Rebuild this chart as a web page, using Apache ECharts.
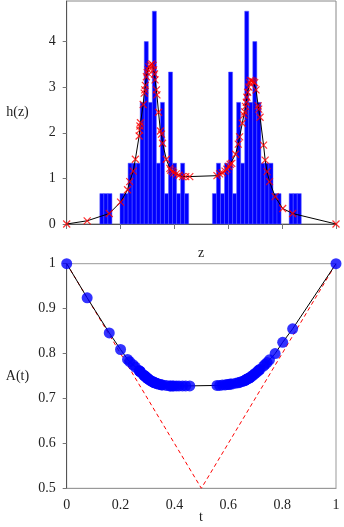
<!DOCTYPE html>
<html>
<head>
<meta charset="utf-8">
<script src="https://cdn.jsdelivr.net/npm/echarts@6/dist/echarts.min.js"></script>
<style>
  html, body { margin: 0; padding: 0; background: #fff; }
  #chart { width: 344px; height: 527px; }
</style>
</head>
<body>
<div id="chart"></div>
<script>
// sample points: z (also t on the lower panel), density h(z), Pickands A(t)
const zPts = [0, 0.076, 0.158, 0.2, 0.226, 0.234, 0.247, 0.255, 0.269, 0.271, 0.272, 0.274,
  0.284, 0.288, 0.29, 0.292, 0.296, 0.299, 0.302, 0.306, 0.311, 0.316, 0.321, 0.323, 0.326,
  0.328, 0.333, 0.335, 0.341, 0.348, 0.352, 0.356, 0.37, 0.383, 0.386, 0.393, 0.397, 0.407,
  0.417, 0.43, 0.442, 0.457, 0.558, 0.568, 0.578, 0.588, 0.595, 0.602, 0.607, 0.613, 0.627,
  0.637, 0.642, 0.652, 0.658, 0.661, 0.664, 0.667, 0.669, 0.672, 0.676, 0.679, 0.682, 0.688,
  0.693, 0.698, 0.703, 0.711, 0.713, 0.718, 0.731, 0.737, 0.744, 0.753, 0.774, 0.802, 0.839, 1]
const hPts = [0, 0.07, 0.23, 0.48, 0.75, 0.93, 1.16, 1.42, 1.93, 2.06, 2.15, 2.22,
  2.62, 2.87, 2.94, 3.04, 3.23, 3.32, 3.38, 3.45, 3.49, 3.51, 3.48, 3.38, 3.29,
  3.16, 2.94, 2.83, 2.45, 2.04, 1.97, 1.77, 1.42, 1.22, 1.18, 1.16, 1.12, 1.10,
  1.07, 1.04, 1.04, 1.04, 1.06, 1.10, 1.12, 1.16, 1.20, 1.26, 1.31, 1.33, 1.53,
  1.75, 1.91, 2.21, 2.39, 2.46, 2.58, 2.67, 2.78, 2.89, 3.00, 3.10, 3.15, 3.14,
  3.12, 3.10, 2.94, 2.59, 2.52, 2.34, 1.73, 1.40, 1.15, 0.93, 0.60, 0.34, 0.23, 0]
const aPts = [1, 0.924, 0.846, 0.809, 0.787, 0.782, 0.775, 0.770, 0.762, 0.761, 0.760, 0.759,
  0.753, 0.751, 0.750, 0.749, 0.747, 0.745, 0.744, 0.742, 0.740, 0.738, 0.737, 0.736, 0.735,
  0.735, 0.734, 0.733, 0.732, 0.731, 0.730, 0.730, 0.729, 0.728, 0.728, 0.728, 0.728, 0.728,
  0.728, 0.728, 0.728, 0.728, 0.729, 0.729, 0.730, 0.730, 0.731, 0.731, 0.732, 0.732, 0.734,
  0.735, 0.736, 0.738, 0.739, 0.740, 0.741, 0.742, 0.743, 0.744, 0.745, 0.746, 0.747, 0.750,
  0.752, 0.755, 0.757, 0.761, 0.763, 0.765, 0.772, 0.776, 0.780, 0.786, 0.800, 0.825, 0.855, 1]

// histogram (density), two runs of equal-width bins
const binWidth = 0.015
const leftBinStart = 0.123
const rightBinStart = 0.541
const leftHist = [0.667, 0.667, 0.667, 0, 0, 0.667, 0.667, 1.333, 1.333, 1.333, 2.667,
  4, 2.667, 4.667, 1.333, 2.667, 0.667, 3.333, 1.333, 0.667, 1.333, 0.667]
const rightHist = [0.667, 1.333, 0.667, 1.333, 3.333, 0.667, 2.667, 1.333, 4.667, 2.667,
  4, 2.667, 1.333, 1.333, 1.333, 0.667, 0.667, 0, 0, 0.667, 0.667, 0.667]

// lower bound max(t, 1-t)
const boundT = [0, 0.5, 1]
const boundA = [1, 0.5, 1]

const yTicksTop = [0, 1, 2, 3, 4]

const FONT = '"Liberation Serif", "DejaVu Serif", serif'
const TXT = '#222'

const bins = []
leftHist.forEach((h, i) => {
  const x0 = leftBinStart + i * binWidth
  if (h > 0) bins.push([x0, x0 + binWidth, h])
})
rightHist.forEach((h, i) => {
  const x0 = rightBinStart + i * binWidth
  if (h > 0) bins.push([x0, x0 + binWidth, h])
})

const hData = zPts.map((z, i) => [z, hPts[i]])
const aData = zPts.map((t, i) => [t, aPts[i]])
const boundData = boundT.map((t, i) => [t, boundA[i]])

const chart = echarts.init(document.getElementById('chart'))

const axisLine = { lineStyle: { color: '#555', width: 1 } }
const label = { color: TXT, fontFamily: FONT, fontSize: 14 }

chart.setOption({
  animation: false,
  grid: [
    { left: 66.7, right: 8, top: 1, height: 223, show: true, borderColor: '#888', borderWidth: 1 },
    { left: 66.7, right: 8, top: 263.7, height: 224.6, show: true, borderColor: '#999', borderWidth: 1 }
  ],
  xAxis: [
    {
      gridIndex: 0, type: 'value', min: 0, max: 1, interval: 0.2,
      axisLine: axisLine,
      axisTick: { show: true, inside: false, length: 5, lineStyle: { color: '#777' } },
      axisLabel: { show: false },
      splitLine: { show: false }
    },
    {
      gridIndex: 1, type: 'value', min: 0, max: 1, interval: 0.2,
      axisLine: { lineStyle: { color: '#999' } },
      axisTick: { show: false },
      axisLabel: Object.assign({ margin: 10 }, label),
      splitLine: { show: false }
    }
  ],
  yAxis: [
    {
      gridIndex: 0, type: 'value', min: 0, max: 4.89,
      axisLine: Object.assign({ show: true }, axisLine),
      axisTick: { show: true, length: 4, customValues: yTicksTop, lineStyle: { color: '#777' } },
      axisLabel: Object.assign({ margin: 11, customValues: yTicksTop }, label),
      splitLine: { show: false }
    },
    {
      gridIndex: 1, type: 'value', min: 0.5, max: 1, interval: 0.1,
      axisLine: Object.assign({ show: true }, axisLine),
      axisTick: { show: true, length: 4, lineStyle: { color: '#777' } },
      axisLabel: Object.assign({ margin: 11 }, label),
      splitLine: { show: false }
    }
  ],
  graphic: [
    { type: 'text', x: 17.5, y: 112, style: { text: 'h(z)', fontFamily: FONT, fontSize: 14, fill: TXT, align: 'center', verticalAlign: 'middle' } },
    { type: 'text', x: 17.5, y: 376, style: { text: 'A(t)', fontFamily: FONT, fontSize: 14, fill: TXT, align: 'center', verticalAlign: 'middle' } },
    { type: 'text', x: 201, y: 253, style: { text: 'z', fontFamily: FONT, fontSize: 14, fill: TXT, align: 'center', verticalAlign: 'middle' } },
    { type: 'text', x: 201, y: 517, style: { text: 't', fontFamily: FONT, fontSize: 14, fill: TXT, align: 'center', verticalAlign: 'middle' } }
  ],
  series: [
    {
      type: 'custom',
      xAxisIndex: 0, yAxisIndex: 0,
      data: bins,
      renderItem(params, api) {
        const p0 = api.coord([api.value(0), 0])
        const p1 = api.coord([api.value(1), api.value(2)])
        return {
          type: 'rect',
          shape: { x: p0[0], y: p1[1], width: p1[0] - p0[0], height: p0[1] - p1[1] },
          style: { fill: '#0000ff', stroke: '#5a5aff', lineWidth: 0.5 }
        }
      },
      z: 1
    },
    {
      type: 'line',
      xAxisIndex: 0, yAxisIndex: 0,
      data: hData,
      showSymbol: false,
      lineStyle: { color: '#000', width: 1 },
      z: 2
    },
    {
      type: 'scatter',
      xAxisIndex: 0, yAxisIndex: 0,
      data: hData,
      symbol: 'path://M0,0L10,10M10,0L0,10',
      symbolSize: 7,
      itemStyle: { color: 'none', borderColor: '#ff0000', borderWidth: 1.2 },
      z: 3
    },
    {
      type: 'line',
      xAxisIndex: 1, yAxisIndex: 1,
      data: boundData,
      showSymbol: false,
      lineStyle: { color: '#ff0000', width: 1, type: [4, 3] },
      z: 2
    },
    {
      type: 'line',
      xAxisIndex: 1, yAxisIndex: 1,
      data: aData,
      showSymbol: false,
      lineStyle: { color: '#000', width: 1 },
      z: 3
    },
    {
      type: 'scatter',
      xAxisIndex: 1, yAxisIndex: 1,
      data: aData,
      symbol: 'circle',
      symbolSize: 11,
      itemStyle: { color: '#0000ff' },
      clip: false,
      z: 4
    }
  ]
})
</script>
</body>
</html>
